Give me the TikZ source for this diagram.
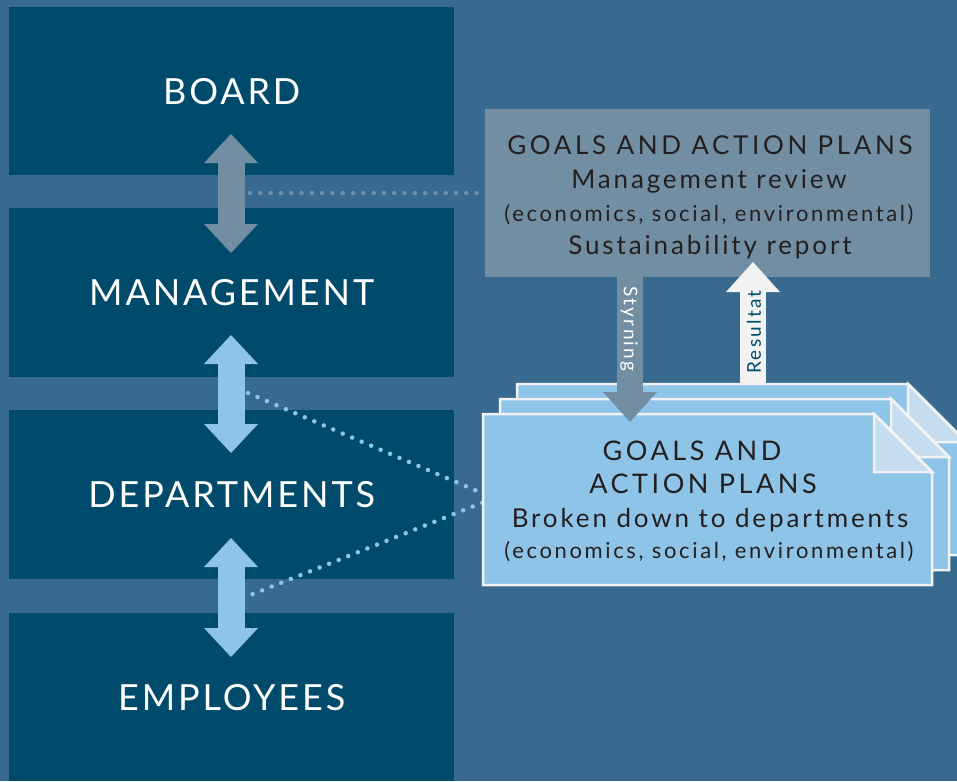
\documentclass[tikz,border=0pt]{standalone}
\usepackage{fontspec}
\setmainfont{Lato}
\newfontfamily\lvlfont{Lato}[LetterSpace=8]
\newfontfamily\capsfont{Lato}[LetterSpace=14]
\newfontfamily\cardcapsfont{Lato}[LetterSpace=13]
\newfontfamily\lowfont{Lato}[LetterSpace=11]
\newfontfamily\smallfont{Lato}[LetterSpace=12]
\usetikzlibrary{arrows.meta}
\definecolor{bg}{HTML}{376A8E}
\definecolor{dark}{HTML}{004B6B}
\definecolor{grayb}{HTML}{728EA3}
\definecolor{lightb}{HTML}{8EC4E8}
\definecolor{foldc}{HTML}{C6DDF0}
\definecolor{paper}{HTML}{F2F2F2}
\definecolor{ink}{HTML}{231F20}
\newcommand\mycard[4]{%
  \filldraw[fill=lightb, draw=paper, line width=2.5pt, line join=miter]
    (#1,#2) -- ++(#3-58,0) -- ++(58,58) -- (#1+#3,#2+#4) -- (#1,#2+#4) -- cycle;
  \filldraw[fill=foldc, draw=paper, line width=2.5pt, line join=miter]
    (#1+#3-58,#2) -- ++(0,58) -- ++(58,0) -- cycle;}
\begin{document}
\begin{tikzpicture}[x=1pt,y=-1pt,
  level/.style={fill=dark, inner sep=0pt, minimum width=445pt, text=white,
    font=\lvlfont\fontsize{36}{40}\selectfont, anchor=north west},
  txt/.style={inner sep=0pt, anchor=base, text=ink},
  capsline/.style={txt, font=\capsfont\fontsize{26}{30}\selectfont},
  cardcaps/.style={txt, font=\cardcapsfont\fontsize{27}{30}\selectfont},
  lowline/.style={txt, font=\lowfont\fontsize{26}{30}\selectfont},
  smallline/.style={txt, font=\smallfont\fontsize{22}{26}\selectfont},
  dots/.style={line width=4.5pt, line cap=round, dash pattern=on 0pt off 10.3pt},
  dblarrow/.style={line width=27pt,
    {Triangle[width=54pt,length=29pt,line width=0pt]}-{Triangle[width=54pt,length=29pt,line width=0pt]}},
  onearrow/.style={line width=26pt, -{Triangle[width=54pt,length=30pt,line width=0pt]}},
  arrowlabel/.style={inner sep=0pt, font=\smallfont\fontsize{19}{22}\selectfont}
]
\fill[bg] (0,0) rectangle (957,781);
\useasboundingbox (0,0) rectangle (957,781);

% levels
\node[level, minimum height=168pt] (board) at (9,7) {BOARD};
\node[level, minimum height=169pt] (mgmt) at (9,208) {MANAGEMENT};
\node[level, minimum height=169pt] (dept) at (9,410) {DEPARTMENTS};
\node[level, minimum height=168pt] (empl) at (9,613) {EMPLOYEES};

% dotted links
\coordinate (d1a) at (250,193); \coordinate (d1b) at (486,193);
\coordinate (d2a) at (248,393); \coordinate (d2b) at (484,494);
\coordinate (d3a) at (243,598); \coordinate (d3b) at (484,502);
\draw[dots, grayb] (d1a) -- (d1b);
\draw[dots, lightb] (d2a) -- (d2b);
\draw[dots, lightb] (d3a) -- (d3b);

% double arrows
\coordinate (a1t) at (231,134); \coordinate (a1b) at (231,253);
\coordinate (a2t) at (231,335); \coordinate (a2b) at (231,453);
\coordinate (a3t) at (231,538); \coordinate (a3b) at (231,657);
\draw[dblarrow, grayb] (a1t) -- (a1b);
\draw[dblarrow, lightb] (a2t) -- (a2b);
\draw[dblarrow, lightb] (a3t) -- (a3b);

% top box
\node[fill=grayb, inner sep=0pt, minimum width=445pt, minimum height=168pt] (review) at (707.5,193) {};
\node[capsline] (rv1) at (710,154) {GOALS AND ACTION PLANS};
\node[lowline] (rv2) at (709,188) {Management review};
\node[smallline] (rv3) at (709,221) {(economics, social, environmental)};
\node[lowline] (rv4) at (710,254) {Sustainability report};

% cards
\mycard{517}{384}{449}{171}
\mycard{500}{399}{449}{171}
\mycard{483}{414}{449}{171}
\node[cardcaps] (pl1) at (692,460) {GOALS AND};
\node[cardcaps] (pl2) at (703,493) {ACTION PLANS};
\node[lowline] (pl3) at (710,527) {Broken down to departments};
\node[smallline] (pl4) at (709,558) {(economics, social, environmental)};

% vertical arrows
\coordinate (s1) at (630,277); \coordinate (s2) at (630,422);
\coordinate (r1) at (753,384); \coordinate (r2) at (753,262);
\draw[onearrow, grayb] (s1) -- (s2);
\draw[onearrow, paper] (r1) -- (r2);
\node[arrowlabel, rotate=-90, text=white] (styr) at (629,329) {Styrning};
\node[arrowlabel, rotate=90, text=dark] (res) at (754,332) {Resultat};
\end{tikzpicture}
\end{document}
